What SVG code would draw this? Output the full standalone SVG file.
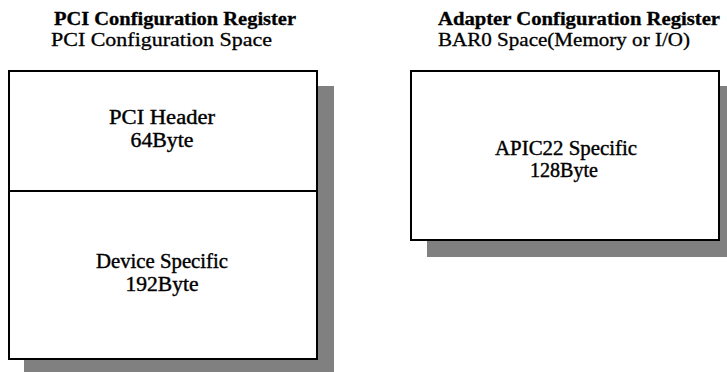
<svg xmlns="http://www.w3.org/2000/svg" width="727" height="372" viewBox="0 0 727 372">
<style>
.shadow{fill:#808080;stroke:none}
.box{fill:#fff;stroke:#000;stroke-width:2}
.title{font-family:"Liberation Serif","DejaVu Serif",serif;font-weight:bold;font-size:18px;fill:#000;stroke:#000;stroke-width:0.3}
.sub{font-family:"Liberation Serif","DejaVu Serif",serif;font-size:19px;fill:#000;stroke:#000;stroke-width:0.3}
.lbl{font-family:"Liberation Serif","DejaVu Serif",serif;font-size:20px;fill:#000;stroke:#000;stroke-width:0.4;text-anchor:middle}
</style>
<rect width="727" height="372" fill="#fff"/>
<g id="titles">
<text class="title" x="54" y="25" textLength="242" lengthAdjust="spacingAndGlyphs">PCI Configuration Register</text>
<text class="sub" x="51" y="46" textLength="221" lengthAdjust="spacingAndGlyphs">PCI Configuration Space</text>
<text class="title" x="438" y="25" textLength="282" lengthAdjust="spacingAndGlyphs">Adapter Configuration Register</text>
<text class="sub" x="438" y="46" textLength="252" lengthAdjust="spacingAndGlyphs">BAR0 Space(Memory or I/O)</text>
</g>
<g id="pci-shadow"><rect class="shadow" x="24" y="86" width="310" height="286"/></g>
<g id="pci-header">
<rect class="box" x="9" y="71" width="308" height="120"/>
<text class="lbl" x="162" y="124" textLength="106" lengthAdjust="spacingAndGlyphs">PCI Header</text>
<text class="lbl" x="162" y="147" textLength="63" lengthAdjust="spacingAndGlyphs">64Byte</text>
</g>
<g id="device-specific">
<rect class="box" x="9" y="191" width="308" height="168"/>
<text class="lbl" x="162" y="268" textLength="132" lengthAdjust="spacingAndGlyphs">Device Specific</text>
<text class="lbl" x="162" y="291" textLength="73" lengthAdjust="spacingAndGlyphs">192Byte</text>
</g>
<g id="apic22">
<rect class="shadow" x="427" y="86" width="300" height="171"/>
<rect class="box" x="411" y="71" width="308" height="169"/>
<text class="lbl" x="566" y="155" textLength="142" lengthAdjust="spacingAndGlyphs">APIC22 Specific</text>
<text class="lbl" x="564" y="177" textLength="68" lengthAdjust="spacingAndGlyphs">128Byte</text>
</g>
<g id="connectors"/>
</svg>
